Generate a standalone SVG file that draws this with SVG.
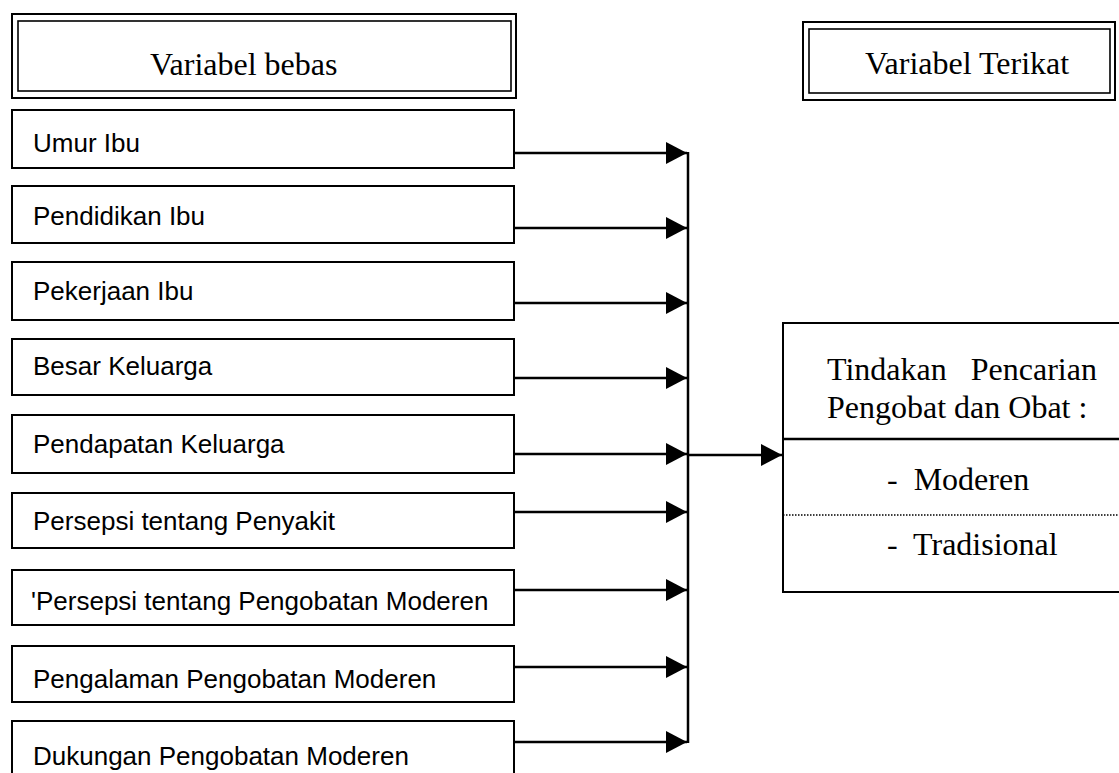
<svg xmlns="http://www.w3.org/2000/svg" width="1119" height="773" viewBox="0 0 1119 773">
<style>
.box{fill:#fff;stroke:#000;stroke-width:2}
.inner{fill:none;stroke:#000;stroke-width:1.6}
.sans{font-family:"Liberation Sans",Arial,sans-serif;font-size:26px;fill:#000}
.serif{font-family:"Liberation Serif","Times New Roman",serif;font-size:32px;fill:#000}
.conn{stroke:#000;stroke-width:2.5;fill:none}
</style>
<defs>
<marker id="arr" markerWidth="22" markerHeight="22" viewBox="0 0 22 22" refX="21" refY="11" orient="auto" markerUnits="userSpaceOnUse">
<path d="M0,0 L21,11 L0,22 Z" fill="#000"/>
</marker>
</defs>
<rect width="1119" height="773" fill="#fff"/>
<g id="header-bebas">
<rect class="box" x="12" y="14" width="504" height="84"/>
<rect class="inner" x="18" y="21" width="493" height="70"/>
<text class="serif" x="150" y="75">Variabel bebas</text>
</g>
<g id="header-terikat">
<rect class="box" x="803" y="22" width="312" height="78"/>
<rect class="inner" x="809" y="29" width="301" height="64"/>
<text class="serif" x="865" y="74">Variabel Terikat</text>
</g>
<g id="n1"><rect class="box" x="12" y="110" width="502" height="58"/><text class="sans" x="33" y="152">Umur Ibu</text></g>
<g id="n2"><rect class="box" x="12" y="186" width="502" height="57"/><text class="sans" x="33" y="225">Pendidikan Ibu</text></g>
<g id="n3"><rect class="box" x="12" y="262" width="502" height="58"/><text class="sans" x="33" y="300">Pekerjaan Ibu</text></g>
<g id="n4"><rect class="box" x="12" y="339" width="502" height="56"/><text class="sans" x="33" y="375">Besar Keluarga</text></g>
<g id="n5"><rect class="box" x="12" y="415" width="502" height="58"/><text class="sans" x="33" y="453">Pendapatan Keluarga</text></g>
<g id="n6"><rect class="box" x="12" y="493" width="502" height="55"/><text class="sans" x="33" y="530">Persepsi tentang Penyakit</text></g>
<g id="n7"><rect class="box" x="12" y="570" width="502" height="55"/><text class="sans" x="31" y="610">'Persepsi tentang Pengobatan Moderen</text></g>
<g id="n8"><rect class="box" x="12" y="646" width="502" height="56"/><text class="sans" x="33" y="688">Pengalaman Pengobatan Moderen</text></g>
<g id="n9"><rect class="box" x="12" y="721" width="502" height="60"/><text class="sans" x="33" y="765">Dukungan Pengobatan Moderen</text></g>
<g id="target">
<rect class="box" x="783" y="323" width="345" height="269"/>
<line x1="783" y1="439" x2="1119" y2="439" stroke="#000" stroke-width="2.5"/>
<line x1="783" y1="515" x2="1119" y2="515" stroke="#000" stroke-width="1.5" stroke-dasharray="1.5,1.5"/>
<text class="serif" x="827" y="380" xml:space="preserve">Tindakan   Pencarian</text>
<text class="serif" x="827" y="418">Pengobat dan Obat :</text>
<text class="serif" x="887" y="490" xml:space="preserve">-  Moderen</text>
<text class="serif" x="887" y="555" xml:space="preserve">-  Tradisional</text>
</g>
<g id="connectors">
<line class="conn" x1="514" y1="153" x2="687" y2="153" marker-end="url(#arr)"/>
<line class="conn" x1="514" y1="228" x2="687" y2="228" marker-end="url(#arr)"/>
<line class="conn" x1="514" y1="303" x2="687" y2="303" marker-end="url(#arr)"/>
<line class="conn" x1="514" y1="378" x2="687" y2="378" marker-end="url(#arr)"/>
<line class="conn" x1="514" y1="454" x2="687" y2="454" marker-end="url(#arr)"/>
<line class="conn" x1="514" y1="512" x2="687" y2="512" marker-end="url(#arr)"/>
<line class="conn" x1="514" y1="590" x2="687" y2="590" marker-end="url(#arr)"/>
<line class="conn" x1="514" y1="667" x2="687" y2="667" marker-end="url(#arr)"/>
<line class="conn" x1="514" y1="742" x2="687" y2="742" marker-end="url(#arr)"/>
<line class="conn" x1="688" y1="152" x2="688" y2="743"/>
<line class="conn" x1="688" y1="455" x2="782" y2="455" marker-end="url(#arr)"/>
</g>
</svg>
